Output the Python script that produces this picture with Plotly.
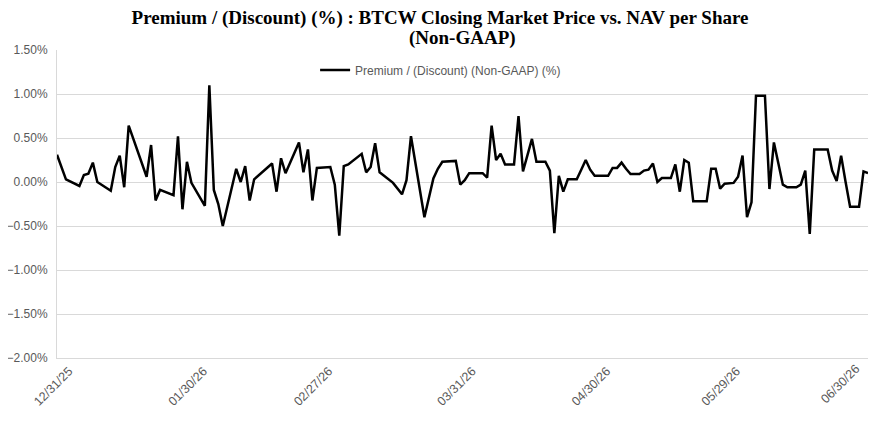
import plotly.graph_objects as go

# premium / (discount) readings, in percent
dates = [
    '2025-12-31', '2026-01-02', '2026-01-05', '2026-01-06', '2026-01-07', '2026-01-08', '2026-01-09',
    '2026-01-12', '2026-01-13', '2026-01-14', '2026-01-15', '2026-01-16', '2026-01-20', '2026-01-21',
    '2026-01-22', '2026-01-23', '2026-01-26', '2026-01-27', '2026-01-28', '2026-01-29', '2026-01-30',
    '2026-02-02', '2026-02-03', '2026-02-04', '2026-02-05', '2026-02-06', '2026-02-09', '2026-02-10',
    '2026-02-11', '2026-02-12', '2026-02-13', '2026-02-17', '2026-02-18', '2026-02-19', '2026-02-20',
    '2026-02-23', '2026-02-24', '2026-02-25', '2026-02-26', '2026-02-27', '2026-03-02', '2026-03-03',
    '2026-03-04', '2026-03-05', '2026-03-06', '2026-03-09', '2026-03-10', '2026-03-11', '2026-03-12',
    '2026-03-13', '2026-03-16', '2026-03-17', '2026-03-18', '2026-03-19', '2026-03-20', '2026-03-23',
    '2026-03-24', '2026-03-25', '2026-03-26', '2026-03-27', '2026-03-30', '2026-03-31', '2026-04-01',
    '2026-04-02', '2026-04-05', '2026-04-06', '2026-04-07', '2026-04-08', '2026-04-09', '2026-04-10',
    '2026-04-12', '2026-04-13', '2026-04-14', '2026-04-15', '2026-04-16', '2026-04-17', '2026-04-19',
    '2026-04-20', '2026-04-21', '2026-04-22', '2026-04-23', '2026-04-24', '2026-04-26', '2026-04-27',
    '2026-04-28', '2026-04-29', '2026-04-30', '2026-05-03', '2026-05-04', '2026-05-05', '2026-05-06',
    '2026-05-07', '2026-05-08', '2026-05-10', '2026-05-11', '2026-05-12', '2026-05-13', '2026-05-14',
    '2026-05-15', '2026-05-17', '2026-05-18', '2026-05-19', '2026-05-20', '2026-05-21', '2026-05-22',
    '2026-05-25', '2026-05-26', '2026-05-27', '2026-05-28', '2026-05-29', '2026-05-31', '2026-06-01',
    '2026-06-02', '2026-06-03', '2026-06-04', '2026-06-05', '2026-06-07', '2026-06-08', '2026-06-09',
    '2026-06-10', '2026-06-11', '2026-06-12', '2026-06-14', '2026-06-15', '2026-06-16', '2026-06-17',
    '2026-06-18', '2026-06-21', '2026-06-22', '2026-06-23', '2026-06-24', '2026-06-25', '2026-06-26',
    '2026-06-28', '2026-06-29', '2026-06-30',
]
premium = [
    0.31, 0.03, -0.045, 0.08, 0.095, 0.22, 0.00,
    -0.10, 0.17, 0.30, -0.06, 0.64, 0.06, 0.42,
    -0.21, -0.09, -0.15, 0.52, -0.31, 0.23, -0.01,
    -0.27, 1.10, -0.09, -0.25, -0.50, 0.15, 0.00,
    0.18, -0.21, 0.03, 0.21, -0.11, 0.27, 0.10,
    0.45, 0.11, 0.37, -0.21, 0.16, 0.17, -0.03,
    -0.61, 0.18, 0.20, 0.32, 0.11, 0.17, 0.44,
    0.11, -0.01, -0.08, -0.14, 0.02, 0.52, -0.40,
    -0.18, 0.04, 0.15, 0.23, 0.24, -0.03, 0.02,
    0.10, 0.10, 0.05, 0.64, 0.25, 0.32, 0.20,
    0.20, 0.75, 0.12, 0.30, 0.49, 0.23, 0.23,
    0.13, -0.58, 0.07, -0.11, 0.03, 0.03, 0.14,
    0.25, 0.14, 0.07, 0.07, 0.16, 0.16, 0.22,
    0.15, 0.09, 0.09, 0.13, 0.14, 0.21, 0.00,
    0.045, 0.045, 0.20, -0.11, 0.25, 0.22, -0.22,
    -0.22, 0.15, 0.15, -0.075, -0.02, -0.01, 0.06,
    0.30, -0.40, -0.23, 0.98, 0.98, -0.08, 0.45,
    0.21, -0.03, -0.06, -0.06, -0.03, 0.13, -0.59,
    0.37, 0.37, 0.13, 0.01, 0.30, 0.00, -0.28,
    -0.28, 0.12, 0.10,
]

tick_dates = ['2025-12-31', '2026-01-30', '2026-02-27', '2026-03-31',
              '2026-04-30', '2026-05-29', '2026-06-30']
tick_labels = ['12/31/25', '01/30/26', '02/27/26', '03/31/26',
               '04/30/26', '05/29/26', '06/30/26']

grey = '#595959'
title_font = dict(family='Times New Roman, Liberation Serif, serif', size=19, color='black')
x_range = [tick_dates[0], tick_dates[-1]]

fig = go.Figure()
fig.add_trace(go.Scatter(
    x=dates, y=premium, mode='lines',
    name='Premium / (Discount) (Non-GAAP) (%)',
    line=dict(color='black', width=2.5),
))
# invisible copy on the second x axis so that axis gets drawn
fig.add_trace(go.Scatter(
    x=dates, y=premium, mode='lines', xaxis='x2',
    line=dict(width=0), showlegend=False, hoverinfo='skip',
))

# page body has an 8px margin, so the figure is sized to fit inside the window
fig.update_layout(
    width=864, height=409,
    paper_bgcolor='white', plot_bgcolor='white',
    margin=dict(l=49, r=4, t=42, b=59),
    title=dict(
        text='<b>Premium / (Discount) (%) : BTCW Closing Market Price vs. NAV per Share</b>',
        x=0.5, xanchor='center', y=0.978, yanchor='middle',
        font=title_font,
    ),
    font=dict(family='Arial, Liberation Sans, sans-serif', size=12.5, color=grey),
    showlegend=True,
    legend=dict(
        orientation='h', x=0.473, xanchor='center', y=0.935, yanchor='middle',
        bgcolor='rgba(0,0,0,0)', font=dict(size=12, color=grey),
    ),
    xaxis=dict(
        type='date', range=x_range,
        tickmode='array', tickvals=tick_dates[:-1], ticktext=tick_labels[:-1],
        tickangle=-45, ticklabelshift=12,
        showgrid=False, showline=True, linecolor='#d9d9d9', linewidth=1,
        ticks='', zeroline=False,
    ),
    # last label pulled back inside the chart, like the original
    xaxis2=dict(
        type='date', range=x_range, overlaying='x', side='bottom',
        tickmode='array', tickvals=tick_dates[-1:], ticktext=tick_labels[-1:],
        tickangle=-45, ticklabelshift=-12,
        showgrid=False, showline=False, ticks='', zeroline=False,
    ),
    yaxis=dict(
        range=[-2.0, 1.5], dtick=0.5, tickformat='.2f', ticksuffix='%',
        tickfont=dict(size=12),
        showgrid=True, gridcolor='#d9d9d9', gridwidth=1,
        ticklabelstandoff=6, automargin=False,
        showline=True, linecolor='#d9d9d9', zeroline=False, ticks='',
    ),
)
fig.add_annotation(
    text='<b>(Non-GAAP)</b>', xref='paper', yref='paper', x=0.5, y=1.039,
    xanchor='center', yanchor='middle', showarrow=False, font=title_font,
)

fig.write_html('out.html')
